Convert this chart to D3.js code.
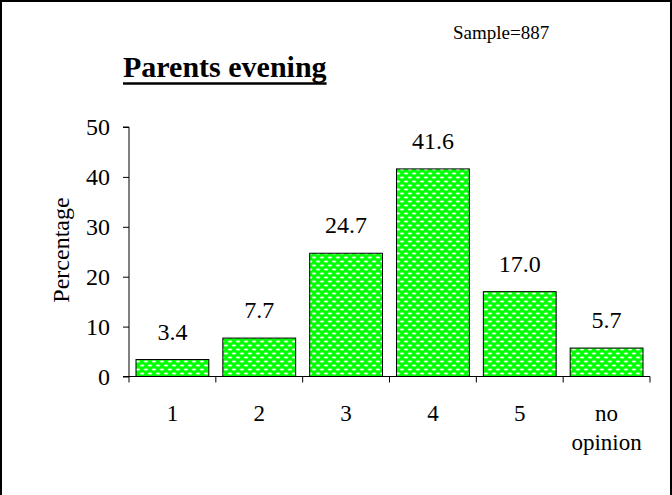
<!DOCTYPE html>
<html><head><meta charset="utf-8">
<script src="https://cdn.jsdelivr.net/npm/d3@7"></script>
<style>html,body{margin:0;padding:0;background:#fff}svg{display:block}</style>
</head><body>
<script>
const categories = ["1","2","3","4","5","no opinion"];
const values = [3.4, 7.7, 24.7, 41.6, 17.0, 5.7];
const valueLabels = ["3.4","7.7","24.7","41.6","17.0","5.7"];
const yTicks = [0,10,20,30,40,50];
const title = "Parents evening";
const sampleText = "Sample=887";
const yTitle = "Percentage";

const W = 672, H = 495;
const font = "'Liberation Serif','Times New Roman',serif";
const svg = d3.select("body").append("svg").attr("width", W).attr("height", H);

function txt(g, px, py, s, size, anchor) {
  return g.append("text").attr("x", px).attr("y", py)
    .attr("text-anchor", anchor || "start").attr("font-family", font).attr("font-size", size)
    .attr("fill", "#000").text(s);
}

const defs = svg.append("defs");
const pat = defs.append("pattern").attr("id","dots").attr("patternUnits","userSpaceOnUse")
  .attr("width",8).attr("height",8);
pat.append("rect").attr("width",8).attr("height",8).attr("fill","#00ff00");
[[2,1.5],[6,5.5],[-2,5.5],[10,1.5]].forEach(([cx,cy])=>{
  pat.append("ellipse").attr("cx",cx).attr("cy",cy).attr("rx",2.3).attr("ry",1.1).attr("fill","#b8ffb8");
  pat.append("ellipse").attr("cx",cx).attr("cy",cy).attr("rx",1.4).attr("ry",0.7).attr("fill","#ffffff");
});

// border
svg.append("path").attr("d",`M1,${H} L1,1 L${W-1},1 L${W-1},${H}`).attr("fill","none").attr("stroke","#000").attr("stroke-width",2);

const x = d3.scaleBand().domain(categories).range([129, 650]).padding(0);
const y = d3.scaleLinear().domain([0,50]).range([376.5, 127]);

// y axis
const yAxis = d3.axisLeft(y).tickValues(yTicks).tickSize(6).tickFormat("");
const gy = svg.append("g").attr("transform","translate(129,0)").call(yAxis);
gy.selectAll("line,path").attr("stroke","#000");
gy.select(".domain").attr("d", `M-6,${y(50)}H0V${y(0)}H-6`);
yTicks.forEach(v => txt(svg, 110, y(v) + 8, String(v), 24, "end"));

// x axis
const gx = svg.append("g").attr("transform",`translate(0,${y(0)})`);
gx.append("line").attr("x1",129).attr("x2",650).attr("y1",0).attr("y2",0).attr("stroke","#000");
const bounds = categories.map(c=>x(c)).concat([x(categories[categories.length-1])+x.bandwidth()]);
gx.selectAll("line.tk").data(bounds).join("line").attr("class","tk")
  .attr("x1",d=>d).attr("x2",d=>d).attr("y1",0).attr("y2",6).attr("stroke","#000");
categories.forEach(c => {
  c.split(" ").forEach((p,i) => txt(gx, x(c)+x.bandwidth()/2, 44.5 + i*28.5, p, 23, "middle"));
});

// bars
const data = categories.map((c,i)=>({c, v:values[i], l:valueLabels[i]}));
svg.selectAll("rect.bar").data(data).join("rect").attr("class","bar")
  .attr("x",d=>x(d.c)+7).attr("width",x.bandwidth()-14)
  .attr("y",d=>y(d.v)).attr("height",d=>y(0)-y(d.v))
  .attr("fill","url(#dots)").attr("stroke","#000").attr("stroke-width",1);

data.forEach(d => txt(svg, x(d.c)+x.bandwidth()/2, y(d.v)-20, d.l, 24, "middle"));

// y title
svg.append("text").attr("transform","translate(69,250) rotate(-90)")
  .attr("text-anchor","middle").attr("font-family",font).attr("font-size",24).attr("fill","#000")
  .text(yTitle);

// title
const tt = txt(svg, 123, 77, title, 30, "start").attr("font-weight","bold");
const tw = tt.node().getComputedTextLength();
svg.append("line").attr("x1",123).attr("x2",123+tw).attr("y1",83.5).attr("y2",83.5)
  .attr("stroke","#000").attr("stroke-width",2.5);

txt(svg, 453, 39, sampleText, 19, "start");
</script>
</body></html>
